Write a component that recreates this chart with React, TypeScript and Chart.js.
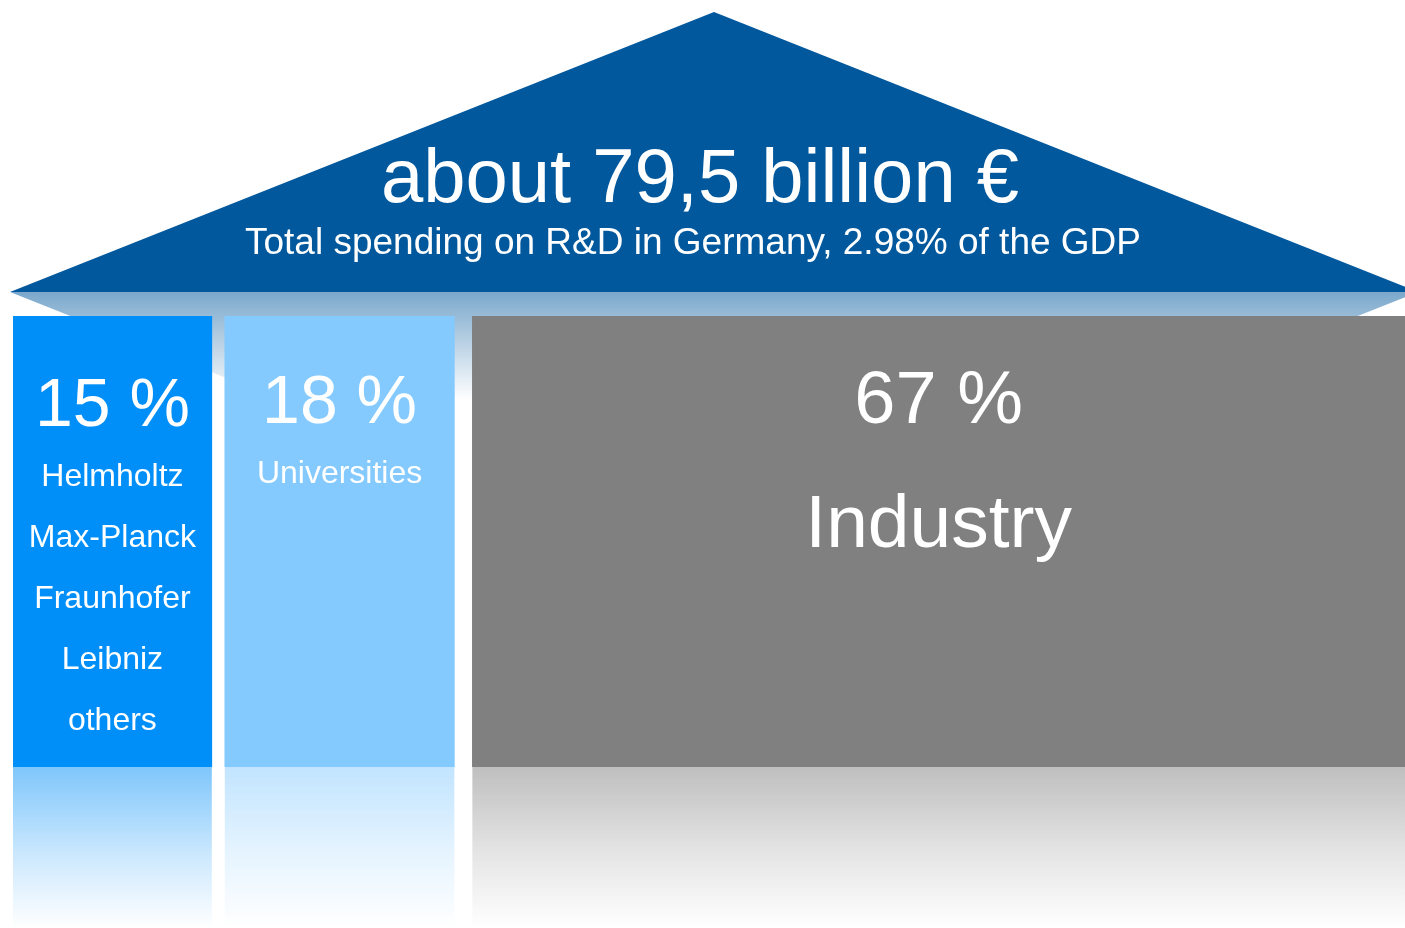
import { useEffect, useRef } from "react";
import { Chart, registerables } from "chart.js";

Chart.register(...registerables);

// ---- data ----
const categories = ["Research organisations", "Universities", "Industry"];
const shares = [15, 18, 67];
const columnTitles = ["", "Universities", "Industry"];
const instituteNames = ["Helmholtz", "Max-Planck", "Fraunhofer", "Leibniz", "others"];
const headline = "about 79,5 billion €";
const subline = "Total spending on R&D in Germany, 2.98% of the GDP";

// ---- styles ----
const colors = ["#008ef8", "#85caff", "#808080"];
const reflectRGB = ["0,142,248", "133,202,255", "128,128,128"];
const borders = [
  { left: 0, right: 10, top: 0, bottom: 0 },
  { left: 3, right: 18, top: 0, bottom: 0 },
  { left: 0, right: 0, top: 0, bottom: 0 },
];
const FONT = '"Liberation Sans", Arial, Helvetica, sans-serif';
const ROOF = "#01589d";

const housePlugin = {
  id: "house",
  beforeDatasetsDraw(chart: any) {
    const ctx = chart.ctx as CanvasRenderingContext2D;
    const a = chart.chartArea;
    const baseY = a.top - 24;
    const apexY = 12;
    const left = a.left - 3;
    const right = a.right + 13;
    const apexX = (left + right) / 2;
    const slope = (baseY - apexY) / (apexX - left);
    ctx.save();
    // reflection under the roof
    const depth = 108;
    const dx = depth / slope;
    const g = ctx.createLinearGradient(0, baseY, 0, baseY + depth);
    g.addColorStop(0, "rgba(1,88,157,0.52)");
    g.addColorStop(1, "rgba(1,88,157,0)");
    ctx.fillStyle = g;
    ctx.beginPath();
    ctx.moveTo(left, baseY);
    ctx.lineTo(right, baseY);
    ctx.lineTo(right - dx, baseY + depth);
    ctx.lineTo(left + dx, baseY + depth);
    ctx.closePath();
    ctx.fill();
    // roof
    ctx.fillStyle = ROOF;
    ctx.beginPath();
    ctx.moveTo(left, baseY);
    ctx.lineTo(apexX, apexY);
    ctx.lineTo(right, baseY);
    ctx.closePath();
    ctx.fill();
    // roof texts
    ctx.fillStyle = "#ffffff";
    ctx.textAlign = "center";
    ctx.textBaseline = "alphabetic";
    ctx.font = `76px ${FONT}`;
    ctx.fillText(headline, apexX - 14, 202);
    ctx.font = `37px ${FONT}`;
    ctx.fillText(subline, apexX - 21, 254);
    ctx.restore();
  },
  afterDatasetsDraw(chart: any) {
    const ctx = chart.ctx as CanvasRenderingContext2D;
    const a = chart.chartArea;
    const H = chart.height;
    ctx.save();
    chart.data.datasets.forEach((_: any, i: number) => {
      const el: any = chart.getDatasetMeta(i).data[0];
      if (!el) return;
      const l = Math.min(el.base, el.x) + borders[i].left;
      const r = Math.max(el.base, el.x) - borders[i].right;
      const cx = (l + r) / 2;
      // reflection below
      const g = ctx.createLinearGradient(0, a.bottom, 0, H);
      g.addColorStop(0, `rgba(${reflectRGB[i]},0.5)`);
      g.addColorStop(0.55, `rgba(${reflectRGB[i]},0.2)`);
      g.addColorStop(1, `rgba(${reflectRGB[i]},0.0)`);
      ctx.fillStyle = g;
      ctx.fillRect(l, a.bottom, r - l, H - a.bottom);
      // texts
      ctx.fillStyle = "#ffffff";
      ctx.textAlign = "center";
      ctx.textBaseline = "alphabetic";
      ctx.font = `${i === 2 ? 74 : 68}px ${FONT}`;
      ctx.fillText(`${shares[i]} %`, cx, a.top + (i === 0 ? 110 : 107));
      if (i === 0) {
        ctx.font = `32px ${FONT}`;
        instituteNames.forEach((n, k) => ctx.fillText(n, cx, a.top + 170 + k * 61));
      } else if (i === 1) {
        ctx.font = `32px ${FONT}`;
        ctx.fillText(columnTitles[i], cx, a.top + 167);
      } else {
        ctx.font = `75px ${FONT}`;
        ctx.fillText(columnTitles[i], cx, a.top + 231);
      }
    });
    ctx.restore();
  },
};

export default function App() {
  const ref = useRef<HTMLCanvasElement>(null);
  useEffect(() => {
    document.body.style.margin = "0";
    const canvas = ref.current!;
    const chart = new Chart(canvas, {
      type: "bar",
      data: {
        labels: ["R&D"],
        datasets: categories.map((c, i) => ({
          label: c,
          data: [shares[i]],
          backgroundColor: colors[i],
          borderColor: "rgba(0,0,0,0)",
          borderWidth: borders[i],
          borderSkipped: false,
          categoryPercentage: 1,
          barPercentage: 1,
        })),
      },
      options: {
        indexAxis: "y",
        responsive: false,
        maintainAspectRatio: false,
        animation: false,
        devicePixelRatio: 1,
        layout: { padding: { top: 316, bottom: 161, left: 13, right: 0 } },
        scales: {
          x: { type: "linear", stacked: true, min: 0, max: 100, display: false },
          y: { stacked: true, display: false },
        },
        plugins: { legend: { display: false }, tooltip: { enabled: false }, title: { display: false } },
      },
      plugins: [housePlugin],
    } as any);
    return () => chart.destroy();
  }, []);
  return <canvas ref={ref} width={1405} height={928} style={{ display: "block" }} />;
}
